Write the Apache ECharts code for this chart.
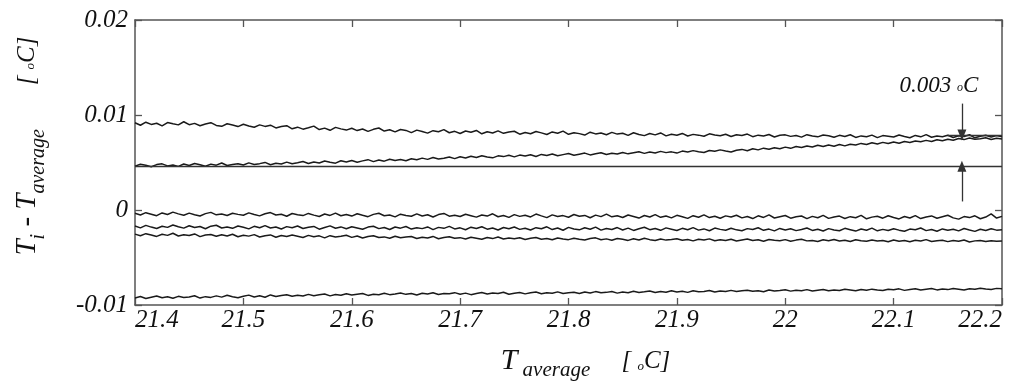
<!DOCTYPE html>
<html>
<head>
<meta charset="utf-8">
<script src="https://cdn.jsdelivr.net/npm/echarts@6/dist/echarts.min.js"></script>
<style>
  html, body { margin: 0; padding: 0; background: #fff; }
  #chart { width: 1026px; height: 391px; }
</style>
</head>
<body>
<div id="chart"></div>
<script>
// x samples: T_average from 21.4 to 22.2 [°C], 161 readings
var sampleStart = 21.4;
var sampleStep = 0.005;
var xTicks = [21.4, 21.5, 21.6, 21.7, 21.8, 21.9, 22, 22.1, 22.2];
var yTicks = [-0.01, 0, 0.01, 0.02];

// traces T_i - T_average, in mK (1e-3 °C)
var traceA = [
    9.18, 8.92, 9.24, 9.01, 9.13, 8.85, 9.20, 9.07, 8.96, 9.29,
    8.98, 9.12, 8.87, 9.05, 9.19, 8.90, 8.81, 9.08, 8.95, 8.78,
    9.02, 8.84, 8.71, 8.96, 8.80, 8.93, 8.64, 8.79, 8.88, 8.55,
    8.72, 8.51, 8.66, 8.83, 8.47, 8.62, 8.39, 8.70, 8.54, 8.41,
    8.60, 8.36, 8.52, 8.28, 8.49, 8.63, 8.31, 8.44, 8.22, 8.47,
    8.38, 8.15, 8.41, 8.27, 8.09, 8.35, 8.24, 8.46, 8.13, 8.28,
    8.05, 8.31, 8.18, 8.37, 8.02, 8.24, 8.11, 8.33, 8.07, 8.21,
    8.29, 7.98, 8.16, 8.03, 8.26, 8.12, 7.95, 8.22, 8.08, 8.30,
    7.97, 8.14, 8.04, 7.89, 8.19, 8.01, 8.10, 7.92, 8.17, 7.99,
    8.08, 7.86, 8.13, 7.95, 7.83, 8.05, 7.91, 8.11, 7.80, 7.98,
    7.87, 8.06, 7.79, 7.96, 7.88, 7.76, 8.02, 7.90, 7.81, 7.97,
    7.74, 7.93, 7.85, 7.99, 7.72, 7.88, 7.80, 7.95, 7.69, 7.86,
    7.91, 7.75, 7.84, 7.67, 7.93, 7.79, 7.70, 7.89, 7.82, 7.65,
    7.86, 7.73, 7.92, 7.64, 7.80, 7.71, 7.88, 7.62, 7.83, 7.76,
    7.68, 7.90, 7.74, 7.61, 7.85, 7.70, 7.93, 7.66, 7.79, 7.72,
    7.87, 7.63, 7.81, 7.74, 7.92, 7.60, 7.77, 7.86, 7.68, 7.83, 7.71
];
var traceB = [
    4.62, 4.81, 4.70, 4.55, 4.78, 4.86, 4.64, 4.73, 4.59, 4.84,
    4.69, 4.90, 4.76, 4.61, 4.83, 4.72, 4.95, 4.68, 4.80, 4.87,
    4.74, 4.96, 4.79, 4.88, 5.01, 4.77, 4.92, 4.84, 5.04, 4.86,
    4.97, 5.10, 4.89, 5.06, 4.94, 5.15, 5.02, 4.93, 5.18, 5.05,
    5.21, 5.03, 5.17, 5.30, 5.09, 5.26, 5.14, 5.35, 5.22, 5.31,
    5.19, 5.40, 5.28, 5.46, 5.33, 5.52, 5.37, 5.45, 5.58, 5.41,
    5.60, 5.47, 5.66, 5.53, 5.71, 5.58, 5.49, 5.70, 5.62, 5.76,
    5.59, 5.78, 5.68, 5.82, 5.63, 5.85, 5.74, 5.90, 5.71, 5.83,
    5.95, 5.77, 5.88, 5.99, 5.80, 5.93, 6.03, 5.84, 5.97, 5.89,
    6.06, 5.91, 6.02, 6.13, 5.96, 6.10, 6.01, 6.17, 6.04, 6.12,
    5.99, 6.20, 6.11, 6.25, 6.14, 6.06, 6.27, 6.19, 6.33, 6.21,
    6.10, 6.29, 6.38, 6.24, 6.45, 6.33, 6.51, 6.40, 6.56, 6.44,
    6.62, 6.49, 6.68, 6.57, 6.74, 6.63, 6.81, 6.69, 6.85, 6.72,
    6.90, 6.75, 6.93, 6.84, 7.01, 6.89, 7.07, 6.95, 7.12, 7.00,
    7.16, 7.03, 7.21, 7.11, 7.27, 7.18, 7.33, 7.22, 7.40, 7.29,
    7.45, 7.34, 7.52, 7.41, 7.57, 7.44, 7.49, 7.60, 7.42, 7.55, 7.47
];
var traceC = [
    -0.35, -0.52, -0.28, -0.44, -0.60, -0.31, -0.47, -0.22, -0.41, -0.56,
    -0.33, -0.49, -0.63, -0.38, -0.25, -0.51, -0.43, -0.58, -0.34, -0.46,
    -0.55, -0.30, -0.48, -0.62, -0.40, -0.27, -0.53, -0.45, -0.66, -0.37,
    -0.50, -0.59, -0.36, -0.54, -0.68, -0.42, -0.57, -0.33, -0.61, -0.47,
    -0.64, -0.39, -0.55, -0.70, -0.46, -0.34, -0.60, -0.52, -0.72, -0.44,
    -0.57, -0.66, -0.41, -0.63, -0.50, -0.74, -0.48, -0.36, -0.65, -0.56,
    -0.69, -0.45, -0.60, -0.75, -0.52, -0.64, -0.40, -0.71, -0.58, -0.78,
    -0.49, -0.67, -0.55, -0.73, -0.43, -0.62, -0.80, -0.51, -0.68, -0.59,
    -0.76, -0.47, -0.66, -0.57, -0.82, -0.54, -0.70, -0.44, -0.72, -0.61,
    -0.79, -0.53, -0.68, -0.85, -0.58, -0.74, -0.49, -0.77, -0.63, -0.83,
    -0.56, -0.71, -0.88, -0.60, -0.76, -0.51, -0.80, -0.66, -0.87, -0.62,
    -0.74, -0.55, -0.83, -0.69, -0.90, -0.61, -0.78, -0.52, -0.84, -0.70,
    -0.58, -0.86, -0.72, -0.63, -0.91, -0.67, -0.81, -0.56, -0.88, -0.73,
    -0.64, -0.89, -0.70, -0.82, -0.57, -0.93, -0.75, -0.66, -0.86, -0.60,
    -0.79, -0.94, -0.68, -0.84, -0.59, -0.90, -0.73, -0.62, -0.87, -0.71,
    -0.55, -0.83, -0.96, -0.69, -0.80, -0.61, -0.92, -0.74, -0.40, -0.85, -0.67
];
var traceD = [
    -1.69, -1.88, -1.62, -1.80, -1.94, -1.71, -1.83, -1.58, -1.77, -1.91,
    -1.66, -1.85, -1.74, -1.97, -1.70, -1.61, -1.89, -1.78, -1.93, -1.68,
    -1.82, -1.99, -1.72, -1.87, -1.64, -1.90, -1.79, -2.00, -1.75, -1.86,
    -1.69, -1.95, -1.81, -1.73, -2.02, -1.84, -1.67, -1.92, -1.78, -1.98,
    -1.76, -1.89, -2.03, -1.80, -1.71, -1.96, -1.85, -2.05, -1.79, -1.91,
    -1.74, -2.01, -1.87, -1.96, -1.78, -2.07, -1.83, -1.93, -1.72, -1.99,
    -1.88, -2.08, -1.81, -1.95, -1.76, -2.02, -1.90, -2.10, -1.84, -1.97,
    -1.79, -2.04, -1.92, -2.11, -1.86, -1.98, -1.77, -2.06, -1.89, -2.13,
    -1.83, -1.99, -2.09, -1.87, -2.03, -1.80, -2.12, -1.94, -2.05, -1.85,
    -2.10, -1.91, -2.15, -1.97, -1.82, -2.07, -1.95, -2.14, -1.88, -2.02,
    -2.16, -1.93, -2.08, -1.86, -2.12, -1.99, -2.18, -1.90, -2.04, -2.13,
    -1.92, -2.09, -2.19, -1.96, -2.06, -1.87, -2.14, -2.01, -2.20, -1.94,
    -2.11, -1.98, -2.17, -2.05, -1.89, -2.15, -2.02, -2.21, -1.96, -2.10,
    -2.18, -1.93, -2.07, -2.22, -2.00, -2.13, -1.91, -2.19, -2.04, -2.16,
    -1.97, -2.12, -2.23, -2.01, -2.08, -1.90, -2.17, -2.06, -2.24, -1.99,
    -2.14, -2.03, -2.20, -1.95, -2.11, -2.25, -2.02, -2.16, -1.98, -2.12, -2.07
];
var traceE = [
    -2.54, -2.71, -2.49, -2.63, -2.78, -2.56, -2.67, -2.45, -2.74, -2.60,
    -2.69, -2.52, -2.80, -2.64, -2.58, -2.77, -2.61, -2.73, -2.55, -2.82,
    -2.66, -2.75, -2.59, -2.84, -2.70, -2.62, -2.87, -2.68, -2.79, -2.64,
    -2.76, -2.89, -2.67, -2.81, -2.72, -2.93, -2.70, -2.85, -2.77, -2.66,
    -2.88, -2.74, -2.95, -2.80, -2.71, -2.90, -2.83, -2.98, -2.76, -2.92,
    -2.85, -2.79, -3.00, -2.87, -2.95, -2.78, -3.03, -2.89, -2.82, -2.98,
    -2.91, -3.05, -2.86, -2.97, -3.08, -2.90, -3.01, -2.84, -3.06, -2.95,
    -3.02, -2.92, -3.11, -2.98, -2.89, -3.07, -3.00, -3.14, -2.94, -3.05,
    -3.12, -2.97, -3.08, -3.16, -3.01, -2.93, -3.13, -3.04, -3.18, -3.00,
    -3.09, -3.20, -3.03, -3.15, -2.98, -3.12, -3.22, -3.06, -3.17, -3.10,
    -3.02, -3.19, -3.11, -3.25, -3.07, -3.16, -3.04, -3.23, -3.13, -3.20,
    -3.08, -3.26, -3.15, -3.05, -3.22, -3.14, -3.28, -3.10, -3.19, -3.24,
    -3.12, -3.29, -3.17, -3.08, -3.25, -3.20, -3.31, -3.14, -3.23, -3.11,
    -3.27, -3.18, -3.32, -3.13, -3.24, -3.30, -3.16, -3.26, -3.21, -3.34,
    -3.15, -3.28, -3.22, -3.35, -3.19, -3.27, -3.12, -3.31, -3.24, -3.18,
    -3.33, -3.21, -3.29, -3.16, -3.36, -3.25, -3.20, -3.32, -3.23, -3.30, -3.26
];
var traceF = [
    -9.26, -9.11, -9.31, -9.18, -9.05, -9.24, -9.14, -9.29, -9.09, -9.22,
    -9.16, -9.02, -9.27, -9.12, -9.20, -9.04, -9.17, -8.98, -9.13, -9.23,
    -9.07, -8.96, -9.15, -9.03, -9.19, -8.94, -9.10, -9.01, -8.92, -9.08,
    -8.97, -9.06, -8.88, -9.02, -8.93, -8.84, -9.04, -8.90, -8.98, -8.81,
    -8.95, -8.86, -8.79, -8.99, -8.87, -8.92, -8.77, -8.91, -8.83, -8.74,
    -8.88, -8.80, -8.94, -8.76, -8.85, -8.71, -8.89, -8.78, -8.82, -8.70,
    -8.86, -8.75, -8.91, -8.79, -8.68, -8.84, -8.73, -8.80, -8.66, -8.87,
    -8.77, -8.69, -8.83, -8.72, -8.64, -8.81, -8.70, -8.76, -8.62, -8.79,
    -8.71, -8.66, -8.78, -8.63, -8.74, -8.59, -8.72, -8.67, -8.57, -8.75,
    -8.64, -8.70, -8.56, -8.68, -8.61, -8.53, -8.69, -8.58, -8.65, -8.51,
    -8.62, -8.55, -8.67, -8.50, -8.60, -8.57, -8.48, -8.63, -8.52, -8.59,
    -8.46, -8.58, -8.51, -8.44, -8.56, -8.49, -8.61, -8.43, -8.53, -8.47,
    -8.40, -8.54, -8.45, -8.50, -8.38, -8.52, -8.44, -8.36, -8.49, -8.41,
    -8.47, -8.35, -8.43, -8.51, -8.37, -8.45, -8.33, -8.42, -8.48, -8.34,
    -8.40, -8.30, -8.46, -8.36, -8.29, -8.43, -8.35, -8.27, -8.41, -8.32,
    -8.38, -8.26, -8.34, -8.42, -8.28, -8.35, -8.23, -8.31, -8.37, -8.25, -8.30
];

// annotation: reference level and the 0.003 °C gap marker
var refLevel = 0.0046;
var upperLevel = 0.0079;
var markerX = 22.163;
var markerTop = 0.0112;
var markerBottom = 0.0009;

var serif = "'Liberation Serif', 'Times New Roman', 'DejaVu Serif', serif";
var ink = '#1a1a1a';

function toPairs(trace) {
    var out = [];
    for (var i = 0; i < trace.length; i++) {
        out.push([+(sampleStart + i * sampleStep).toFixed(3), trace[i] / 1000]);
    }
    return out;
}

function traceSeries(name, trace) {
    return {
        name: name,
        type: 'line',
        data: toPairs(trace),
        showSymbol: false,
        symbol: 'none',
        lineStyle: { color: ink, width: 1.5 },
        silent: true
    };
}

var frameLine = { show: true, onZero: false, lineStyle: { color: '#555', width: 1.5 } };
var innerTick = { show: true, inside: true, length: 7, lineStyle: { color: '#555', width: 1.3 } };

var seriesA = traceSeries('A', traceA);
seriesA.markLine = {
    silent: true,
    symbol: ['none', 'none'],
    lineStyle: { color: '#333', width: 1.3, type: 'solid' },
    label: { show: false },
    data: [
        [{ coord: [21.4, refLevel] }, { coord: [22.2, refLevel] }],
        [{ coord: [22.15, upperLevel] }, { coord: [22.2, upperLevel] }],
        [
            {
                coord: [markerX, markerTop],
                label: {
                    show: true,
                    position: 'start',
                    distance: 4,
                    padding: [0, 46, 0, 0],
                    formatter: '{v|0.003 }{o|o}{v|C}',
                    rich: {
                        v: { fontFamily: serif, fontStyle: 'italic', fontSize: 23, color: '#111', lineHeight: 28, verticalAlign: 'middle' },
                        o: { fontFamily: serif, fontStyle: 'italic', fontSize: 12, color: '#111', lineHeight: 28, verticalAlign: 'bottom', padding: [0, 0, 6, 0] }
                    }
                }
            },
            { coord: [markerX, upperLevel], symbol: 'triangle', symbolSize: [9, 11] }
        ],
        [
            { coord: [markerX, markerBottom] },
            { coord: [markerX, refLevel], symbol: 'triangle', symbolSize: [9, 11] }
        ]
    ]
};

var option = {
    backgroundColor: '#fff',
    animation: false,
    grid: { left: 135, right: 24, top: 20, bottom: 86 },
    xAxis: [
        {
            type: 'value',
            min: xTicks[0],
            max: xTicks[xTicks.length - 1],
            interval: 0.1,
            axisLine: frameLine,
            axisTick: innerTick,
            splitLine: { show: false },
            axisLabel: {
                margin: 3,
                fontFamily: serif,
                fontStyle: 'italic',
                fontSize: 25,
                color: '#111',
                alignMinLabel: 'left',
                alignMaxLabel: 'right'
            },
            name: '{m|T}{s| average}{u|     [ }{o|o}{u|C]}',
            nameLocation: 'middle',
            nameGap: 36,
            nameTextStyle: {
                padding: [0, 0, 0, 34],
                rich: {
                    m: { fontFamily: serif, fontStyle: 'italic', fontSize: 30, color: '#111', lineHeight: 40, verticalAlign: 'middle' },
                    s: { fontFamily: serif, fontStyle: 'italic', fontSize: 21, color: '#111', lineHeight: 21, verticalAlign: 'bottom' },
                    u: { fontFamily: serif, fontStyle: 'italic', fontSize: 25, color: '#111', lineHeight: 40, verticalAlign: 'middle' },
                    o: { fontFamily: serif, fontStyle: 'italic', fontSize: 13, color: '#111', lineHeight: 13, verticalAlign: 'bottom', padding: [0, 0, 8, 0] }
                }
            }
        },
        {
            type: 'value',
            position: 'top',
            min: xTicks[0],
            max: xTicks[xTicks.length - 1],
            interval: 0.1,
            axisLine: frameLine,
            axisTick: innerTick,
            axisLabel: { show: false },
            splitLine: { show: false }
        }
    ],
    yAxis: [
        {
            type: 'value',
            min: yTicks[0],
            max: yTicks[yTicks.length - 1],
            interval: 0.01,
            axisLine: frameLine,
            axisTick: innerTick,
            splitLine: { show: false },
            axisLabel: {
                margin: 7,
                fontFamily: serif,
                fontStyle: 'italic',
                fontSize: 25,
                color: '#111'
            },
            name: '{m|T}{s|i}{m| - T}{s|average}{u|       [ }{o|o}{u|C]}',
            nameLocation: 'middle',
            nameRotate: 90,
            nameGap: 86,
            nameTextStyle: {
                padding: [0, 0, 0, 33],
                rich: {
                    m: { fontFamily: serif, fontStyle: 'italic', fontSize: 29, color: '#111', lineHeight: 44, verticalAlign: 'middle' },
                    s: { fontFamily: serif, fontStyle: 'italic', fontSize: 20, color: '#111', lineHeight: 20, verticalAlign: 'bottom' },
                    u: { fontFamily: serif, fontStyle: 'italic', fontSize: 25, color: '#111', lineHeight: 44, verticalAlign: 'middle' },
                    o: { fontFamily: serif, fontStyle: 'italic', fontSize: 13, color: '#111', lineHeight: 13, verticalAlign: 'bottom', padding: [0, 0, 12, 0] }
                }
            }
        },
        {
            type: 'value',
            position: 'right',
            min: yTicks[0],
            max: yTicks[yTicks.length - 1],
            interval: 0.01,
            axisLine: frameLine,
            axisTick: innerTick,
            axisLabel: { show: false },
            splitLine: { show: false }
        }
    ],
    series: [
        seriesA,
        traceSeries('B', traceB),
        traceSeries('C', traceC),
        traceSeries('D', traceD),
        traceSeries('E', traceE),
        traceSeries('F', traceF)
    ]
};

var chart = echarts.init(document.getElementById('chart'));
chart.setOption(option);
</script>
</body>
</html>
